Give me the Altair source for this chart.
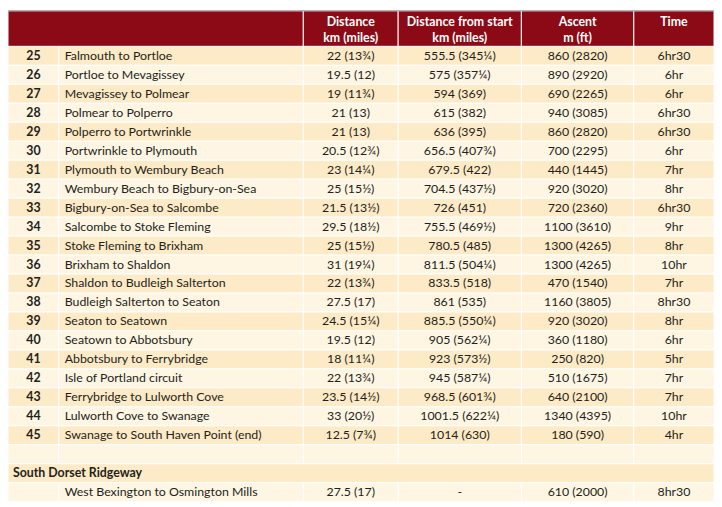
import altair as alt
import pandas as pd

# ---------------- data ----------------
stages = [str(s) for s in range(25, 46)]
routes = [
    "Falmouth to Portloe", "Portloe to Mevagissey", "Mevagissey to Polmear",
    "Polmear to Polperro", "Polperro to Portwrinkle", "Portwrinkle to Plymouth",
    "Plymouth to Wembury Beach", "Wembury Beach to Bigbury-on-Sea",
    "Bigbury-on-Sea to Salcombe", "Salcombe to Stoke Fleming",
    "Stoke Fleming to Brixham", "Brixham to Shaldon",
    "Shaldon to Budleigh Salterton", "Budleigh Salterton to Seaton",
    "Seaton to Seatown", "Seatown to Abbotsbury", "Abbotsbury to Ferrybridge",
    "Isle of Portland circuit", "Ferrybridge to Lulworth Cove",
    "Lulworth Cove to Swanage", "Swanage to South Haven Point (end)",
]
distances = [
    "22 (13¾)", "19.5 (12)", "19 (11¾)", "21 (13)", "21 (13)", "20.5 (12¾)",
    "23 (14¼)", "25 (15½)", "21.5 (13½)", "29.5 (18½)", "25 (15½)", "31 (19¼)",
    "22 (13¾)", "27.5 (17)", "24.5 (15¼)", "19.5 (12)", "18 (11¼)", "22 (13¾)",
    "23.5 (14½)", "33 (20½)", "12.5 (7¾)",
]
from_start = [
    "555.5 (345¼)", "575 (357¼)", "594 (369)", "615 (382)", "636 (395)",
    "656.5 (407¾)", "679.5 (422)", "704.5 (437½)", "726 (451)", "755.5 (469½)",
    "780.5 (485)", "811.5 (504¼)", "833.5 (518)", "861 (535)", "885.5 (550¼)",
    "905 (562¼)", "923 (573½)", "945 (587¼)", "968.5 (601¾)", "1001.5 (622¼)",
    "1014 (630)",
]
ascents = [
    "860 (2820)", "890 (2920)", "690 (2265)", "940 (3085)", "860 (2820)",
    "700 (2295)", "440 (1445)", "920 (3020)", "720 (2360)", "1100 (3610)",
    "1300 (4265)", "1300 (4265)", "470 (1540)", "1160 (3805)", "920 (3020)",
    "360 (1180)", "250 (820)", "510 (1675)", "640 (2100)", "1340 (4395)",
    "180 (590)",
]
times = [
    "6hr30", "6hr", "6hr", "6hr30", "6hr30", "6hr", "7hr", "8hr", "6hr30",
    "9hr", "8hr", "10hr", "7hr", "8hr30", "8hr", "6hr", "5hr", "7hr", "7hr",
    "10hr", "4hr",
]
section_title = "South Dorset Ridgeway"
extra_row = ["", "West Bexington to Osmington Mills", "27.5 (17)", "-", "610 (2000)", "8hr30"]

header_line1 = ["Distance", "Distance from start", "Ascent", "Time"]
header_line2 = ["km (miles)", "km (miles)", "m (ft)", ""]

# ---------------- layout ----------------
COL_EDGES = [0, 52, 302, 399, 525, 640, 722]
HEADER_H = 36.5
ROW_H = 19.5
W, H = 722, 507
DARK, LIGHT = "#fdeac6", "#fef5e3"
HEADER_FILL = "#8c0a16"
TEXT = "#231f20"
FONT = "Lato"
FS = 12.5

rows = []
for i in range(len(stages)):
    rows.append(("stage", [stages[i], routes[i], distances[i], from_start[i], ascents[i], times[i]]))
rows.append(("blank", [""] * 6))
rows.append(("section", [section_title]))
rows.append(("stage", extra_row))

cells, texts = [], []
for i, (kind, vals) in enumerate(rows):
    top = HEADER_H + i * ROW_H
    bot = top + ROW_H
    mid = top + ROW_H / 2
    fill = DARK if i % 2 == 0 else LIGHT
    if kind == "section":
        cells.append(dict(x0=0, x1=W, top=top, bot=bot, fill=fill))
        texts.append(dict(x=5, y=mid, t=vals[0], kind="section"))
        continue
    for c in range(6):
        x0, x1 = COL_EDGES[c], COL_EDGES[c + 1]
        cells.append(dict(x0=x0, x1=x1, top=top, bot=bot, fill=fill))
        if vals[c] == "":
            continue
        if c == 0:
            texts.append(dict(x=(x0 + x1) / 2, y=mid, t=vals[c], kind="num"))
        elif c == 1:
            texts.append(dict(x=x0 + 6, y=mid, t=vals[c], kind="left"))
        else:
            texts.append(dict(x=(x0 + x1) / 2, y=mid, t=vals[c], kind="center"))

# header cells
hdr_edges = [0, 302, 399, 525, 640, 722]
for c in range(len(hdr_edges) - 1):
    cells.append(dict(x0=hdr_edges[c], x1=hdr_edges[c + 1], top=0, bot=HEADER_H, fill=HEADER_FILL))
for c in range(4):
    cx = (COL_EDGES[c + 2] + COL_EDGES[c + 3]) / 2
    texts.append(dict(x=cx, y=11.5, t=header_line1[c], kind="header"))
    if header_line2[c]:
        texts.append(dict(x=cx, y=27.5, t=header_line2[c], kind="header"))

cells_df = pd.DataFrame(cells)
texts_df = pd.DataFrame(texts)

xs = alt.Scale(domain=[0, W], nice=False, zero=False)
ys = alt.Scale(domain=[0, H], nice=False, zero=False, reverse=True)

rects = alt.Chart(cells_df).mark_rect(stroke="white", strokeWidth=1).encode(
    x=alt.X("x0:Q", scale=xs, axis=None),
    x2="x1:Q",
    y=alt.Y("top:Q", scale=ys, axis=None),
    y2="bot:Q",
    color=alt.Color("fill:N", scale=None),
)

top_line = alt.Chart(pd.DataFrame({"a": [0], "b": [W], "y": [0]})).mark_rule(
    color="#9a9a9a", strokeWidth=1
).encode(x=alt.X("a:Q", scale=xs, axis=None), x2="b:Q", y=alt.Y("y:Q", scale=ys, axis=None))


def text_layer(kind, align, weight, color):
    return alt.Chart(texts_df[texts_df.kind == kind]).mark_text(
        align=align, baseline="middle", font=FONT, fontSize=FS,
        fontWeight=weight, color=color,
    ).encode(
        x=alt.X("x:Q", scale=xs, axis=None),
        y=alt.Y("y:Q", scale=ys, axis=None),
        text="t:N",
    )


chart = alt.layer(
    rects,
    top_line,
    text_layer("header", "center", "bold", "white"),
    text_layer("num", "center", "bold", TEXT),
    text_layer("left", "left", "normal", TEXT),
    text_layer("center", "center", "normal", TEXT),
    text_layer("section", "left", "bold", TEXT),
).properties(
    width=714, height=499, padding=0, autosize="none"
).configure_view(strokeWidth=0)

chart.save("out.html", embed_options={"renderer": "svg", "actions": False})
